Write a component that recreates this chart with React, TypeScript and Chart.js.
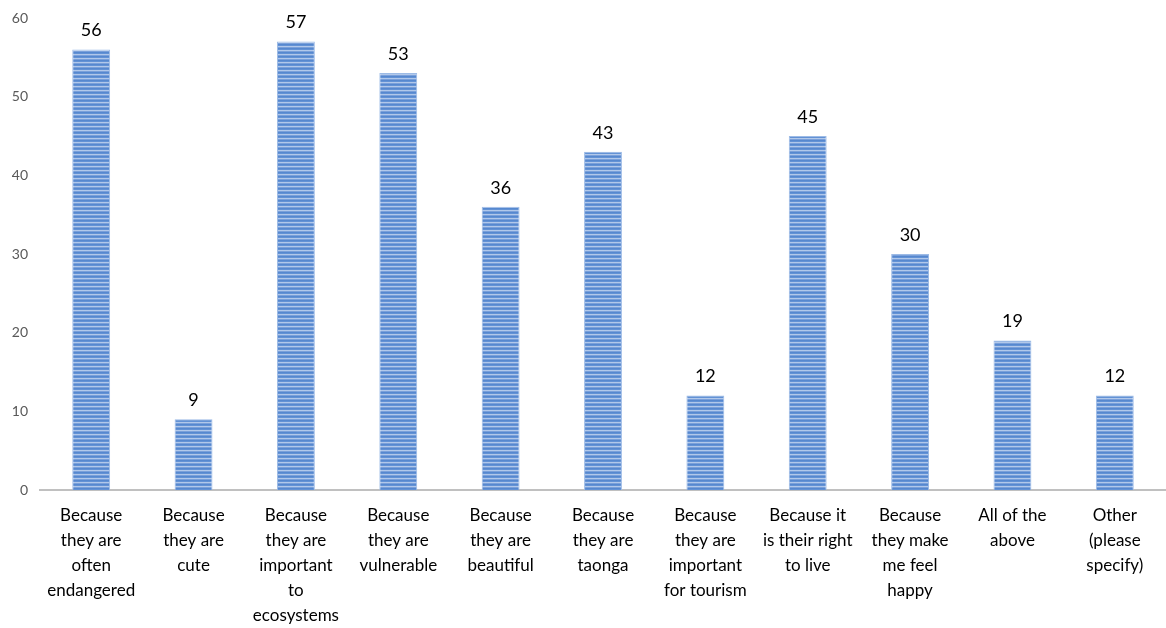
import React, { useEffect, useRef } from "react";
import { Chart, registerables } from "chart.js";

Chart.register(...registerables);

const categories: string[][] = [
  ["Because", "they are", "often", "endangered"],
  ["Because", "they are", "cute"],
  ["Because", "they are", "important", "to", "ecosystems"],
  ["Because", "they are", "vulnerable"],
  ["Because", "they are", "beautiful"],
  ["Because", "they are", "taonga"],
  ["Because", "they are", "important", "for tourism"],
  ["Because it", "is their right", "to live"],
  ["Because", "they make", "me feel", "happy"],
  ["All of the", "above"],
  ["Other", "(please", "specify)"],
];
const values: number[] = [56, 9, 57, 53, 36, 43, 12, 45, 30, 19, 12];
const yTicks: number[] = [0, 10, 20, 30, 40, 50, 60];

const FONT = "Lato, 'Open Sans', sans-serif";

function makePattern(): CanvasPattern | string {
  const c = document.createElement("canvas");
  c.width = 4;
  c.height = 4;
  const ctx = c.getContext("2d");
  if (!ctx) return "#5b8bd0";
  const rows = ["#5688cf", "#6392d5", "#b1c8ea", "#7aa0da"];
  rows.forEach((col, i) => {
    ctx.fillStyle = col;
    ctx.fillRect(0, i, 4, 1);
  });
  const p = ctx.createPattern(c, "repeat");
  return p || "#5b8bd0";
}

const dataLabels = {
  id: "dataLabels",
  afterDatasetsDraw(chart: any) {
    const ctx = chart.ctx;
    const meta = chart.getDatasetMeta(0);
    ctx.save();
    ctx.font = `18px ${FONT}`;
    ctx.fillStyle = "#000000";
    ctx.textAlign = "center";
    ctx.textBaseline = "bottom";
    meta.data.forEach((bar: any, i: number) => {
      ctx.fillText(String(values[i]), bar.x, bar.y - 10);
    });
    ctx.restore();
  },
};

export default function App() {
  const ref = useRef<HTMLCanvasElement | null>(null);
  useEffect(() => {
    if (!ref.current) return;
    const chart = new Chart(ref.current, {
      type: "bar",
      data: {
        labels: categories,
        datasets: [
          {
            data: values,
            backgroundColor: makePattern() as any,
            borderColor: "#9dbbe6",
            borderWidth: { left: 1, right: 1, top: 1, bottom: 0 } as any,
            barPercentage: 0.37,
            categoryPercentage: 1,
          },
        ],
      },
      options: {
        animation: false,
        responsive: false,
        maintainAspectRatio: false,
        layout: { padding: { top: 18, right: 0, left: 0, bottom: 0 } },
        plugins: {
          legend: { display: false },
          tooltip: { enabled: false },
        },
        scales: {
          x: {
            grid: { display: false, drawTicks: false },
            border: { color: "#c0c0c0", width: 2 },
            ticks: {
              color: "#000000",
              font: { family: FONT, size: 17, lineHeight: 1.47 },
              padding: 13,
              maxRotation: 0,
              autoSkip: false,
            },
            afterFit: (s: any) => {
              s.height = 138;
              s.paddingLeft = 0;
              s.paddingRight = 0;
            },
          },
          y: {
            min: 0,
            max: 60,
            afterBuildTicks: (s: any) => {
              s.ticks = yTicks.map((v) => ({ value: v }));
            },
            grid: { display: false, drawTicks: false },
            border: { display: false },
            ticks: {
              color: "#595959",
              font: { family: FONT, size: 14 },
              padding: 12,
            },
            afterFit: (s: any) => {
              s.width = 40;
              s.paddingTop = 0;
              s.paddingBottom = 0;
            },
          },
        },
      },
      plugins: [dataLabels],
    });
    return () => chart.destroy();
  }, []);
  return (
    <div style={{ position: "absolute", left: 0, top: 0, width: 1166, height: 628 }}>
      <canvas ref={ref} width={1166} height={628} />
    </div>
  );
}
